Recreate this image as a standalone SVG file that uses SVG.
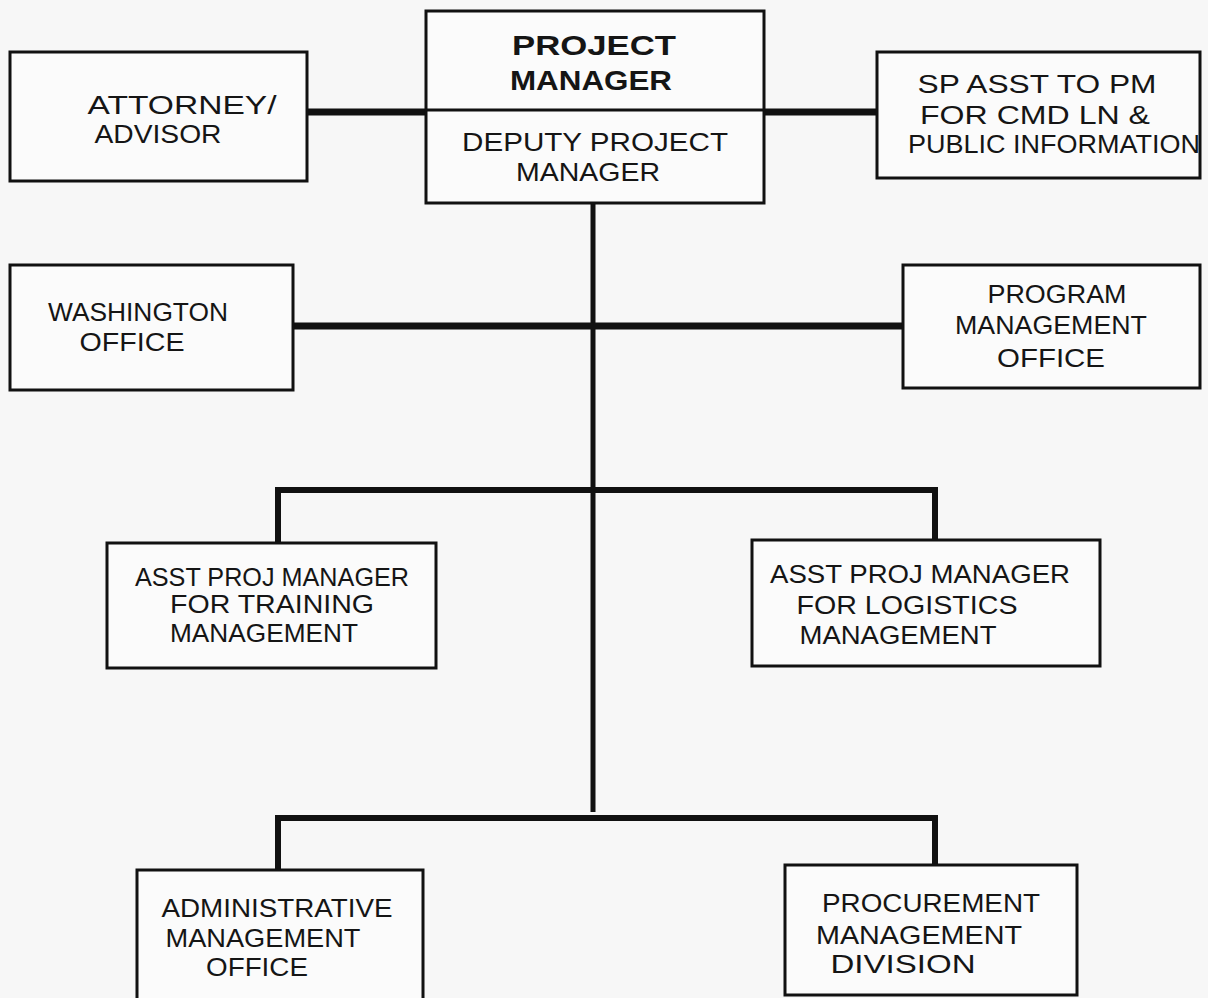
<svg xmlns="http://www.w3.org/2000/svg" width="1208" height="998" viewBox="0 0 1208 998">
<style>
.box{fill:#fbfbfb;stroke:#111;stroke-width:3}
.t{font-family:"Liberation Sans",Arial,sans-serif;font-size:25px;fill:#151515;text-anchor:middle}
.b{font-weight:bold;font-size:28px}
.c{fill:none;stroke:#111;stroke-linecap:butt}
</style>
<rect width="1208" height="998" fill="#f7f7f7"/>
<g id="connectors">
<path class="c" d="M307 112H426M764 112H877" stroke-width="7"/>
<path class="c" d="M593 203V812" stroke-width="5"/>
<path class="c" d="M293 326H903" stroke-width="7"/>
<path class="c" d="M278 543V490H935V540" stroke-width="6"/>
<path class="c" d="M278 870V818H935V865" stroke-width="6"/>
</g>
<g id="pm">
<rect class="box" x="426" y="11" width="338" height="192"/>
<line x1="426" y1="110" x2="764" y2="110" stroke="#111" stroke-width="3"/>
<text class="t b" x="594" y="55" textLength="164" lengthAdjust="spacingAndGlyphs">PROJECT</text>
<text class="t b" x="591" y="90" textLength="162" lengthAdjust="spacingAndGlyphs">MANAGER</text>
<text class="t" x="595" y="151" textLength="266" lengthAdjust="spacingAndGlyphs">DEPUTY PROJECT</text>
<text class="t" x="588" y="181" textLength="144" lengthAdjust="spacingAndGlyphs">MANAGER</text>
</g>
<g id="attorney">
<rect class="box" x="10" y="52" width="297" height="129"/>
<text class="t" x="182" y="114" textLength="189" lengthAdjust="spacingAndGlyphs">ATTORNEY/</text>
<text class="t" x="158" y="143" textLength="127" lengthAdjust="spacingAndGlyphs">ADVISOR</text>
</g>
<g id="sp-asst">
<rect class="box" x="877" y="52" width="323" height="126"/>
<text class="t" x="1037" y="93" textLength="239" lengthAdjust="spacingAndGlyphs">SP ASST TO PM</text>
<text class="t" x="1035" y="124" textLength="230" lengthAdjust="spacingAndGlyphs">FOR CMD LN &amp;</text>
<text class="t" x="1054" y="153" textLength="292" lengthAdjust="spacingAndGlyphs">PUBLIC INFORMATION</text>
</g>
<g id="washington">
<rect class="box" x="10" y="265" width="283" height="125"/>
<text class="t" x="138" y="321" textLength="180" lengthAdjust="spacingAndGlyphs">WASHINGTON</text>
<text class="t" x="132" y="351" textLength="105" lengthAdjust="spacingAndGlyphs">OFFICE</text>
</g>
<g id="program">
<rect class="box" x="903" y="265" width="297" height="123"/>
<text class="t" x="1057" y="303" textLength="139" lengthAdjust="spacingAndGlyphs">PROGRAM</text>
<text class="t" x="1051" y="334" textLength="192" lengthAdjust="spacingAndGlyphs">MANAGEMENT</text>
<text class="t" x="1051" y="367" textLength="108" lengthAdjust="spacingAndGlyphs">OFFICE</text>
</g>
<g id="training">
<rect class="box" x="107" y="543" width="329" height="125"/>
<text class="t" x="272" y="586" textLength="274" lengthAdjust="spacingAndGlyphs">ASST PROJ MANAGER</text>
<text class="t" x="272" y="613" textLength="204" lengthAdjust="spacingAndGlyphs">FOR  TRAINING</text>
<text class="t" x="264" y="642" textLength="188" lengthAdjust="spacingAndGlyphs">MANAGEMENT</text>
</g>
<g id="logistics">
<rect class="box" x="752" y="540" width="348" height="126"/>
<text class="t" x="920" y="583" textLength="300" lengthAdjust="spacingAndGlyphs">ASST  PROJ MANAGER</text>
<text class="t" x="907" y="614" textLength="221" lengthAdjust="spacingAndGlyphs">FOR LOGISTICS</text>
<text class="t" x="898" y="644" textLength="197" lengthAdjust="spacingAndGlyphs">MANAGEMENT</text>
</g>
<g id="admin">
<rect class="box" x="137" y="870" width="286" height="130"/>
<text class="t" x="277" y="917" textLength="231" lengthAdjust="spacingAndGlyphs">ADMINISTRATIVE</text>
<text class="t" x="263" y="947" textLength="195" lengthAdjust="spacingAndGlyphs">MANAGEMENT</text>
<text class="t" x="257" y="976" textLength="102" lengthAdjust="spacingAndGlyphs">OFFICE</text>
</g>
<g id="procurement">
<rect class="box" x="785" y="865" width="292" height="130"/>
<text class="t" x="931" y="912" textLength="218" lengthAdjust="spacingAndGlyphs">PROCUREMENT</text>
<text class="t" x="919" y="944" textLength="206" lengthAdjust="spacingAndGlyphs">MANAGEMENT</text>
<text class="t" x="903" y="973" textLength="145" lengthAdjust="spacingAndGlyphs">DIVISION</text>
</g>
</svg>
